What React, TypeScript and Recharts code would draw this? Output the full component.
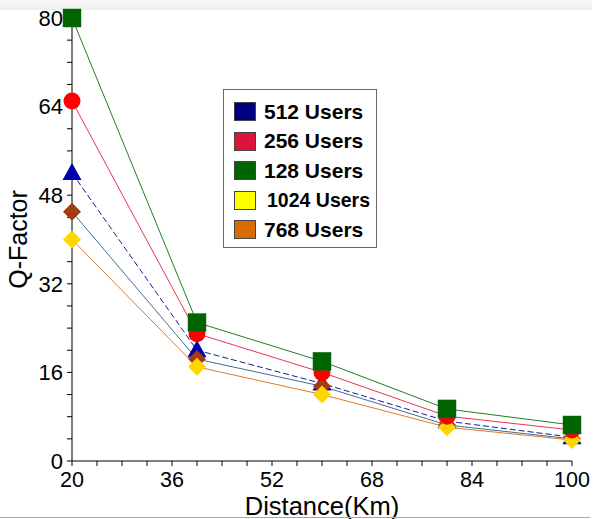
import React from 'react';
import { LineChart, Line, XAxis, YAxis } from 'recharts';

const distances = [20, 40, 60, 80, 100];
const users128 = [80, 25, 18, 9.4, 6.5];
const users256 = [65, 23, 16, 8.1, 5.6];
const users512 = [52, 20, 14, 7.2, 4.3];
const users768 = [45, 18.4, 13.5, 6.5, 4];
const users1024 = [40, 17, 12, 6.1, 3.8];

const xTicks = [20, 24, 28, 32, 36, 40, 44, 48, 52, 56, 60, 64, 68, 72, 76, 80, 84, 88, 92, 96, 100];
const yTicks = [0, 4, 8, 12, 16, 20, 24, 28, 32, 36, 40, 44, 48, 52, 56, 60, 64, 68, 72, 76, 80];

const legendItems = [
    { label: '512 Users', color: '#000080' },
    { label: '256 Users', color: '#dc143c' },
    { label: '128 Users', color: '#006400' },
    { label: '1024 Users', color: '#ffff00' },
    { label: '768 Users', color: '#d96c00' },
];

const data = distances.map((d, i) => ({
    distance: d,
    u128: users128[i],
    u256: users256[i],
    u512: users512[i],
    u768: users768[i],
    u1024: users1024[i],
}));

const font = '"Liberation Sans", Arial, sans-serif';

const SquareDot = (props: any) => {
    const { cx, cy, index } = props;
    return <rect key={index} x={cx - 9} y={cy - 9} width={18} height={18} fill="#006400" stroke="#1a6b1a" strokeWidth={0.5} />;
};

const CircleDot = (props: any) => {
    const { cx, cy, index } = props;
    return <circle key={index} cx={cx} cy={cy} r={8.5} fill="#ff0000" />;
};

const TriangleDot = (props: any) => {
    const { cx, cy, index } = props;
    return <polygon key={index} points={`${cx},${cy - 10} ${cx + 9.5},${cy + 7} ${cx - 9.5},${cy + 7}`} fill="#0000aa" />;
};

const makeDiamond = (color: string) => (props: any) => {
    const { cx, cy, index } = props;
    return <polygon key={index} points={`${cx},${cy - 9} ${cx + 9},${cy} ${cx},${cy + 9} ${cx - 9},${cy}`} fill={color} />;
};

const BrownDiamond = makeDiamond('#a33b10');
const YellowDiamond = makeDiamond('#ffd700');

const LegendBox = () => (
    <div
        style={{
            position: 'absolute',
            left: 223,
            top: 89,
            border: '1px solid #666',
            background: '#fff',
            width: 152,
            height: 150,
            paddingTop: 7,
            fontFamily: font,
            fontWeight: 'bold',
        }}
    >
        {legendItems.map((item, i) => (
            <div key={i} style={{ display: 'flex', alignItems: 'center', height: 29.5, paddingLeft: 10 }}>
                <div style={{ width: 20, height: 17, background: item.color, border: '1px solid #444' }} />
                <span
                    style={{
                        marginLeft: item.label === '1024 Users' ? 11 : 8,
                        fontSize: item.label === '1024 Users' ? 19.5 : 21,
                        color: '#000',
                        whiteSpace: 'nowrap',
                    }}
                >
                    {item.label}
                </span>
            </div>
        ))}
    </div>
);

export default function App() {
    return (
        <div style={{ position: 'relative', width: 593, height: 519, background: '#fff', overflow: 'hidden' }}>
            <style>{`body { margin: 0; }`}</style>
            <div style={{ position: 'absolute', left: 0, top: 0, width: 592, height: 10, background: 'linear-gradient(#f7f7f7, #efefef)' }} />
            <LineChart
                width={593}
                height={519}
                data={data}
                margin={{ top: 18, right: 21, left: 0, bottom: 0 }}
                style={{ position: 'absolute', left: 0, top: 0 }}
            >
                <XAxis
                    dataKey="distance"
                    type="number"
                    domain={[20, 100]}
                    ticks={xTicks}
                    interval={0}
                    height={58}
                    tickSize={5}
                    tickMargin={6}
                    stroke="#000"
                    tick={{ fill: '#000', fontSize: 21.5, fontFamily: font }}
                    tickFormatter={(v: number) => ((v - 20) % 16 === 0 ? String(v) : '')}
                    label={{
                        content: ({ viewBox }: any) => (
                            <text
                                x={viewBox.x + viewBox.width / 2}
                                y={515}
                                textAnchor="middle"
                                fontSize={25.5}
                                fontFamily={font}
                                fill="#000"
                            >
                                Distance(Km)
                            </text>
                        ),
                    }}
                />
                <YAxis
                    type="number"
                    domain={[0, 80]}
                    ticks={yTicks}
                    interval={0}
                    width={72}
                    tickSize={5}
                    tickMargin={4}
                    stroke="#000"
                    tick={{ fill: '#000', fontSize: 22, fontFamily: font }}
                    tickFormatter={(v: number) => (v % 16 === 0 ? String(v) : '')}
                    label={{
                        content: ({ viewBox }: any) => {
                            const cy = viewBox.y + viewBox.height / 2;
                            return (
                                <text
                                    x={27}
                                    y={cy}
                                    transform={`rotate(-90, 27, ${cy})`}
                                    textAnchor="middle"
                                    fontSize={25}
                                    fontFamily={font}
                                    fill="#000"
                                >
                                    Q-Factor
                                </text>
                            );
                        },
                    }}
                />
                <Line
                    dataKey="u512"
                    stroke="#1a1a9a"
                    strokeWidth={1}
                    strokeDasharray="6 3"
                    dot={TriangleDot}
                    isAnimationActive={false}
                />
                <Line
                    dataKey="u768"
                    stroke="#3f7090"
                    strokeWidth={1}
                    dot={BrownDiamond}
                    isAnimationActive={false}
                />
                <Line
                    dataKey="u1024"
                    stroke="#e07a22"
                    strokeWidth={1}
                    dot={YellowDiamond}
                    isAnimationActive={false}
                />
                <Line
                    dataKey="u256"
                    stroke="#e8335a"
                    strokeWidth={1}
                    dot={CircleDot}
                    isAnimationActive={false}
                />
                <Line
                    dataKey="u128"
                    stroke="#1f7f1f"
                    strokeWidth={1}
                    dot={SquareDot}
                    isAnimationActive={false}
                />
            </LineChart>
            <LegendBox />
            <div style={{ position: 'absolute', left: 0, top: 516.5, width: 590, height: 1.5, background: '#a8a8a8' }} />
        </div>
    );
}
